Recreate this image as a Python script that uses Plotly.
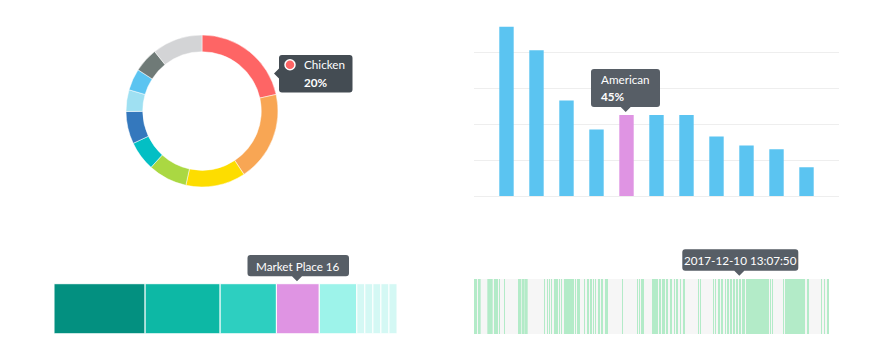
import plotly.graph_objects as go
import pandas as pd
import numpy as np

# page body has an 8px default margin: figure covers page pixels 8..880 x 8..355
OFF = 8
W, H = 880 - OFF, 355 - OFF
FONT = "Lato"

# ---------------- data ----------------
# donut
donut_labels = ["Chicken", "Beef", "Pork", "Lamb", "Turkey", "Duck", "Fish", "Shrimp", "Tofu", "Other"]
donut_values = [21.5, 19.2, 12.7, 8.3, 6.3, 6.9, 4.6, 4.6, 5.2, 10.7]
donut_colors = ["#fe6565", "#f8a654", "#fddd00", "#aad842", "#03bfc4", "#3478bd",
                "#9fe0f2", "#5bc4f1", "#6f7a77", "#d3d4d6"]

# column chart
cuisines = ["Italian", "Chinese", "Mexican", "Japanese", "American", "Thai",
            "Indian", "French", "Greek", "Korean", "Spanish"]
cuisine_share = [94, 81, 53, 37, 45, 45, 45, 33, 28, 26, 16]
highlight_cuisine = "American"

# stacked single bar
places = ["Restaurant", "Cafe", "Food Truck", "Market Place", "Bakery",
          "Deli", "Diner", "Bistro", "Pub", "Canteen"]
place_counts = [34, 28, 21, 16, 14, 3, 3, 3, 3, 3]
place_colors = ["#039080", "#0db8a5", "#2dcfc0", "#df94e3", "#9df3ea",
                "#d4f8f4", "#d4f8f4", "#d4f8f4", "#d4f8f4", "#d4f8f4"]
highlight_place = "Market Place"

# activity timeline (start offset in minutes from session start, duration in minutes)
timeline_origin = "2017-12-09 23:52:00"
timeline_end = "2017-12-10 17:37:00"
event_start_min = [0, 5, 12, 40, 62, 68, 75, 90, 132, 145, 151, 210, 219, 225, 231, 240, 255, 261,
                   270, 303, 309, 330, 339, 348, 357, 363, 372, 381, 393, 444, 489, 495, 501,
                   534, 555, 564, 576, 588, 600, 606, 618, 627, 672, 678, 717, 723, 732, 741,
                   753, 759, 768, 777, 786, 795, 804, 816, 888, 894, 927, 933, 999, 1041, 1050, 1059]
event_dur_min = [3, 3, 8, 16, 3, 3, 3, 3, 10, 3, 10, 3, 3, 3, 3, 12, 3, 3,
                 30, 3, 9, 3, 6, 6, 3, 3, 6, 6, 9, 3, 3, 3, 9,
                 18, 6, 9, 6, 6, 3, 6, 3, 6, 3, 3, 3, 3, 6, 6,
                 3, 6, 6, 6, 6, 6, 9, 69, 3, 3, 3, 60, 6, 3, 3, 6]
hover_time = "2017-12-10 13:07:50"

# ---------------- helpers ----------------
def fx(px):
    return (px - OFF) / W

def fy(py):
    return 1 - (py - OFF) / H

def tip_path(x0, y0, x1, y1, caret, pos, r=3, c=5):
    def P(x, y):
        return f"{fx(x):.5f},{fy(y):.5f}"
    s = f"M {P(x0 + r, y0)} L {P(x1 - r, y0)} Q {P(x1, y0)} {P(x1, y0 + r)} "
    s += f"L {P(x1, y1 - r)} Q {P(x1, y1)} {P(x1 - r, y1)} "
    if caret == "down":
        s += f"L {P(pos + c, y1)} L {P(pos, y1 + c)} L {P(pos - c, y1)} "
    s += f"L {P(x0 + r, y1)} Q {P(x0, y1)} {P(x0, y1 - r)} "
    if caret == "left":
        s += f"L {P(x0, pos + c)} L {P(x0 - c, pos)} L {P(x0, pos - c)} "
    s += f"L {P(x0, y0 + r)} Q {P(x0, y0)} {P(x0 + r, y0)} Z"
    return s

fig = go.Figure()

# ---------------- donut ----------------
fig.add_trace(go.Pie(
    labels=donut_labels, values=donut_values, hole=0.78, sort=False,
    direction="clockwise", rotation=0,
    marker=dict(colors=donut_colors, line=dict(color="white", width=0.5)),
    textinfo="none", hoverinfo="none", showlegend=False,
    domain=dict(x=[fx(126), fx(278)], y=[fy(187), fy(35)]),
))

# ---------------- column chart ----------------
bar_colors = ["#df94e3" if c == highlight_cuisine else "#5bc4f1" for c in cuisines]
fig.add_trace(go.Bar(
    x=cuisines, y=cuisine_share, marker=dict(color=bar_colors, line=dict(width=0)),
    width=0.48, xaxis="x2", yaxis="y2", showlegend=False, hoverinfo="none",
))

# ---------------- stacked bar ----------------
place_base = np.concatenate([[0], np.cumsum(place_counts)[:-1]])
fig.add_trace(go.Bar(
    y=["places"] * len(places), x=place_counts, base=place_base, orientation="h",
    marker=dict(color=place_colors, line=dict(color="white", width=1)),
    width=1, xaxis="x3", yaxis="y3", showlegend=False, hoverinfo="none",
))

# ---------------- timeline ----------------
origin = pd.Timestamp(timeline_origin)
starts = [origin + pd.Timedelta(minutes=m) for m in event_start_min]
fig.add_trace(go.Bar(
    y=["events"] * len(starts), x=[d * 60000 for d in event_dur_min],
    base=[s.strftime("%Y-%m-%d %H:%M:%S") for s in starts], orientation="h",
    marker=dict(color="#b3ebc8", line=dict(width=0)),
    width=1, xaxis="x4", yaxis="y4", showlegend=False, hoverinfo="none",
))

hidden = dict(showgrid=False, zeroline=False, showticklabels=False, showline=False, ticks="")

fig.update_layout(
    width=W, height=H, margin=dict(l=0, r=0, t=0, b=0),
    paper_bgcolor="white", plot_bgcolor="rgba(0,0,0,0)",
    barmode="overlay", font=dict(family=FONT, color="white"),
    xaxis2=dict(domain=[fx(474), fx(839)], range=[-1.083, 11.083], anchor="y2", **hidden),
    yaxis2=dict(domain=[fy(196), fy(21.4)], range=[0, 97], anchor="x2",
                showgrid=True, gridcolor="#eeeeee", gridwidth=1, dtick=20,
                zeroline=True, zerolinecolor="#eeeeee", zerolinewidth=1,
                showticklabels=False, showline=False, ticks=""),
    xaxis3=dict(domain=[fx(54), fx(397)], range=[0, sum(place_counts)], anchor="y3", **hidden),
    yaxis3=dict(domain=[fy(333.7), fy(283.7)], range=[-0.5, 0.5], anchor="x3", **hidden),
    xaxis4=dict(domain=[fx(474), fx(829)], type="date", range=[timeline_origin, timeline_end],
                anchor="y4", **hidden),
    yaxis4=dict(domain=[fy(334), fy(279)], range=[-0.5, 0.5], anchor="x4", **hidden),
)

shapes = []
# timeline background
shapes.append(dict(type="rect", xref="x4 domain", yref="y4 domain", x0=0, x1=1, y0=0, y1=1,
                   fillcolor="#f6f6f6", line=dict(width=0), layer="below"))
# tooltips
shapes.append(dict(type="path", xref="paper", yref="paper",
                   path=tip_path(279, 55, 352.5, 92.5, "left", 73.5),
                   fillcolor="#444c53", line=dict(width=0)))
shapes.append(dict(type="circle", xref="paper", yref="paper",
                   x0=fx(285), x1=fx(295), y0=fy(69.7), y1=fy(59.7),
                   fillcolor="#fe6565", line=dict(color="white", width=1.5)))
shapes.append(dict(type="path", xref="paper", yref="paper",
                   path=tip_path(591, 69, 660, 107, "down", 625.7),
                   fillcolor="#575e66", line=dict(width=0)))
shapes.append(dict(type="path", xref="paper", yref="paper",
                   path=tip_path(247.5, 255, 349, 276.3, "down", 297),
                   fillcolor="#575e66", line=dict(width=0)))
shapes.append(dict(type="path", xref="paper", yref="paper",
                   path=tip_path(682.3, 249.3, 798.3, 270.7, "down", 739.3),
                   fillcolor="#575e66", line=dict(width=0)))
fig.update_layout(shapes=shapes)

chicken_pct = "20%"
american_pct = f"{cuisine_share[cuisines.index(highlight_cuisine)]}%"
place_val = place_counts[places.index(highlight_place)]

def ann(text, x, y, size=11.7, anchor="left"):
    return dict(text=text, x=fx(x), y=fy(y), xref="paper", yref="paper", showarrow=False,
                xanchor=anchor, yanchor="middle", font=dict(family=FONT, size=size, color="white"))

fig.update_layout(annotations=[
    ann(donut_labels[0], 301.5, 64.5),
    ann(f"<b>{chicken_pct}</b>", 301.5, 81.5),
    ann(highlight_cuisine, 598.5, 79.5),
    ann(f"<b>{american_pct}</b>", 598.5, 96.5),
    ann(f"{highlight_place} {place_val}", 298.2, 265.5, anchor="center"),
    ann(hover_time, 740.3, 260, anchor="center"),
])

fig.write_html("out.html")
